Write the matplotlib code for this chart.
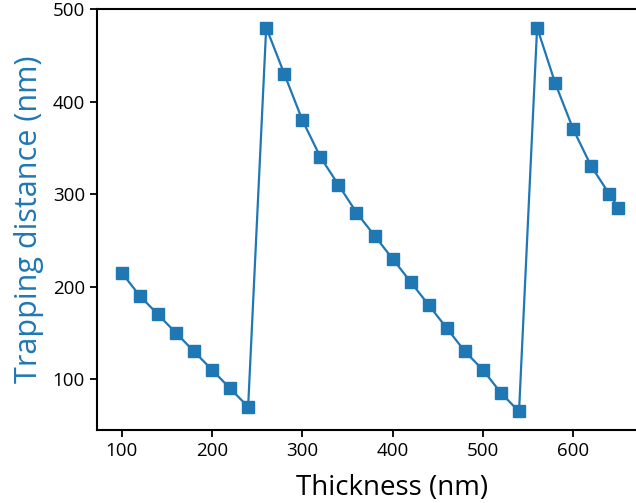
import matplotlib
matplotlib.use("Agg")
import matplotlib.pyplot as plt

thickness = [100, 120, 140, 160, 180, 200, 220, 240,
             260, 280, 300, 320, 340, 360, 380, 400, 420, 440, 460, 480, 500, 520, 540,
             560, 580, 600, 620, 640, 650]
trapping = [215, 190, 170, 150, 130, 110, 90, 70,
            480, 430, 380, 340, 310, 280, 255, 230, 205, 180, 155, 130, 110, 85, 65,
            480, 420, 370, 330, 300, 285]
xticks = [100, 200, 300, 400, 500, 600]
yticks = [100, 200, 300, 400, 500]

plt.rcParams['font.family'] = ['Open Sans', 'DejaVu Sans']
color = '#1f77b4'

W, H = 636, 503
left_px, right_px, top_px, bottom_px = 96.7, 687, 9, 430
fig = plt.figure(figsize=(W/100, H/100), dpi=100)
ax = fig.add_axes([left_px/W, 1 - bottom_px/H, (right_px - left_px)/W, (bottom_px - top_px)/H])
ax.plot(thickness, trapping, color=color, lw=1.6, marker='s', ms=9,
        markeredgecolor=color, markerfacecolor=color, clip_on=False)
ax.set_xlim(72.3, 726)
ax.set_ylim(45, 500)
ax.set_xticks(xticks)
ax.set_yticks(yticks)
ax.spines['right'].set_visible(False)
for s in ['left', 'bottom', 'top']:
    ax.spines[s].set_linewidth(1.5)
ax.tick_params(axis='both', labelsize=13.5, width=1.3, length=5, direction='out')
ax.set_xlabel('Thickness (nm)', fontsize=20, labelpad=10)
ax.set_ylabel('Trapping distance (nm)', fontsize=22, color=color, labelpad=6)
fig.savefig('out.png', dpi=100)
